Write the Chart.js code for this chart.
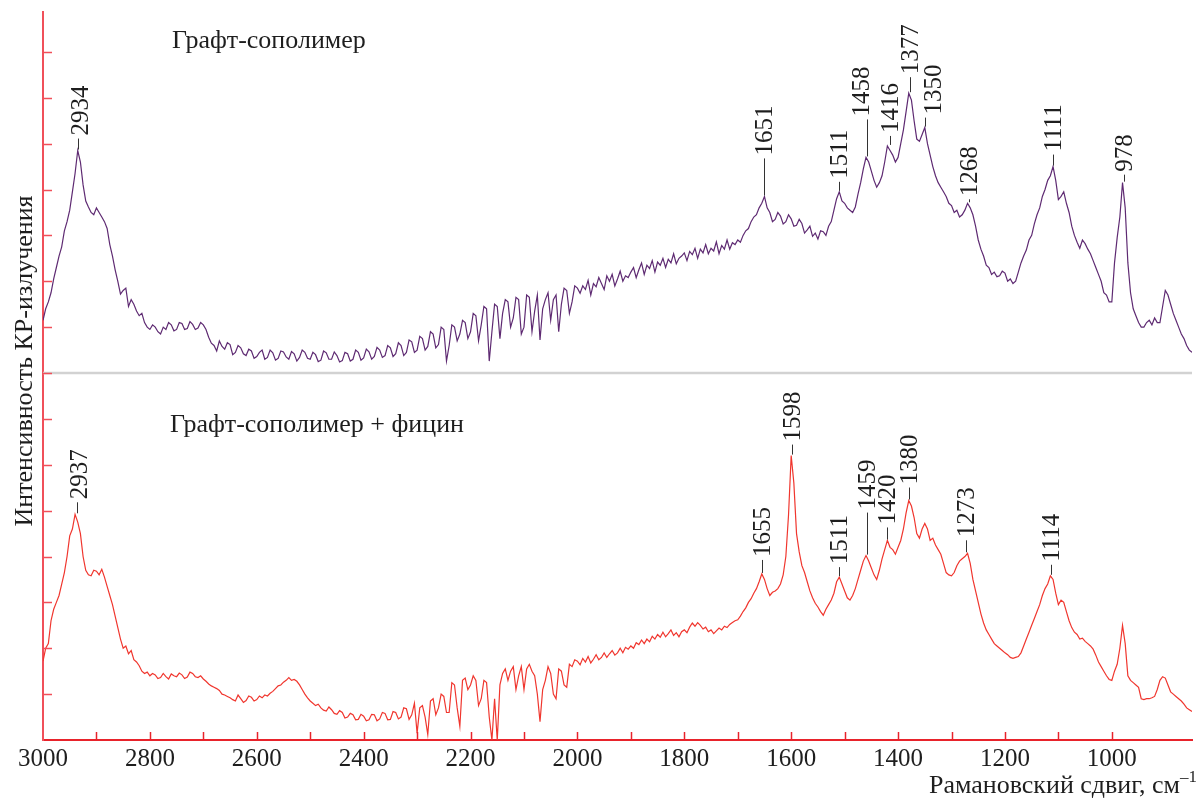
<!DOCTYPE html>
<html>
<head>
<meta charset="utf-8">
<script src="https://cdn.jsdelivr.net/npm/chart.js@4.4.1/dist/chart.umd.min.js"></script>
<style>
  html, body { margin: 0; background: #fff; }
  #wrap { width: 1198px; height: 803px; }
</style>
</head>
<body>
<div id="wrap"><canvas id="raman"></canvas></div>
<script>
// Raman shift, cm-1 (3000 -> 850, step 5)
const shift = [
  3000,2995,2990,2985,2980,2975,2970,2965,2960,2955,2950,2945,2940,2935,2930,2925,2920,2915,2910,2905,
  2900,2895,2890,2885,2880,2875,2870,2865,2860,2855,2850,2845,2840,2835,2830,2825,2820,2815,2810,2805,
  2800,2795,2790,2785,2780,2775,2770,2765,2760,2755,2750,2745,2740,2735,2730,2725,2720,2715,2710,2705,
  2700,2695,2690,2685,2680,2675,2670,2665,2660,2655,2650,2645,2640,2635,2630,2625,2620,2615,2610,2605,
  2600,2595,2590,2585,2580,2575,2570,2565,2560,2555,2550,2545,2540,2535,2530,2525,2520,2515,2510,2505,
  2500,2495,2490,2485,2480,2475,2470,2465,2460,2455,2450,2445,2440,2435,2430,2425,2420,2415,2410,2405,
  2400,2395,2390,2385,2380,2375,2370,2365,2360,2355,2350,2345,2340,2335,2330,2325,2320,2315,2310,2305,
  2300,2295,2290,2285,2280,2275,2270,2265,2260,2255,2250,2245,2240,2235,2230,2225,2220,2215,2210,2205,
  2200,2195,2190,2185,2180,2175,2170,2165,2160,2155,2150,2145,2140,2135,2130,2125,2120,2115,2110,2105,
  2100,2095,2090,2085,2080,2075,2070,2065,2060,2055,2050,2045,2040,2035,2030,2025,2020,2015,2010,2005,
  2000,1995,1990,1985,1980,1975,1970,1965,1960,1955,1950,1945,1940,1935,1930,1925,1920,1915,1910,1905,
  1900,1895,1890,1885,1880,1875,1870,1865,1860,1855,1850,1845,1840,1835,1830,1825,1820,1815,1810,1805,
  1800,1795,1790,1785,1780,1775,1770,1765,1760,1755,1750,1745,1740,1735,1730,1725,1720,1715,1710,1705,
  1700,1695,1690,1685,1680,1675,1670,1665,1660,1655,1650,1645,1640,1635,1630,1625,1620,1615,1610,1605,
  1600,1595,1590,1585,1580,1575,1570,1565,1560,1555,1550,1545,1540,1535,1530,1525,1520,1515,1510,1505,
  1500,1495,1490,1485,1480,1475,1470,1465,1460,1455,1450,1445,1440,1435,1430,1425,1420,1415,1410,1405,
  1400,1395,1390,1385,1380,1375,1370,1365,1360,1355,1350,1345,1340,1335,1330,1325,1320,1315,1310,1305,
  1300,1295,1290,1285,1280,1275,1270,1265,1260,1255,1250,1245,1240,1235,1230,1225,1220,1215,1210,1205,
  1200,1195,1190,1185,1180,1175,1170,1165,1160,1155,1150,1145,1140,1135,1130,1125,1120,1115,1110,1105,
  1100,1095,1090,1085,1080,1075,1070,1065,1060,1055,1050,1045,1040,1035,1030,1025,1020,1015,1010,1005,
  1000,995,990,985,980,975,970,965,960,955,950,945,940,935,930,925,920,915,910,905,
  900,895,890,885,880,875,870,865,860,855,850
];

// upper trace (graft copolymer), drawn above the grey baseline
const graft = [
  9.15,9.4,9.55,9.75,10.05,10.3,10.55,10.75,11.1,11.3,11.55,11.95,12.35,12.85,12.6,12.1,11.75,11.62,11.5,11.45,
  11.6,11.5,11.4,11.3,11.15,10.8,10.55,10.25,10.0,9.72,9.8,9.85,9.45,9.6,9.5,9.35,9.25,9.3,9.1,9.0,
  8.95,9.05,9.0,8.9,8.85,9.0,8.95,9.1,9.05,8.92,8.95,9.1,9.08,8.95,8.97,9.12,9.06,8.95,8.98,9.1,
  9.05,8.95,8.78,8.65,8.6,8.48,8.7,8.58,8.52,8.66,8.62,8.4,8.45,8.6,8.55,8.42,8.38,8.52,8.48,8.32,
  8.36,8.45,8.5,8.3,8.34,8.5,8.44,8.28,8.32,8.48,8.46,8.35,8.3,8.47,8.42,8.26,8.34,8.5,8.45,8.32,
  8.3,8.45,8.4,8.25,8.28,8.48,8.44,8.3,8.3,8.46,8.38,8.24,8.27,8.45,8.42,8.26,8.3,8.5,8.45,8.28,
  8.33,8.52,8.46,8.3,8.36,8.56,8.5,8.34,8.38,8.6,8.55,8.36,8.42,8.66,8.6,8.38,8.45,8.72,8.68,8.45,
  8.5,8.8,8.75,8.5,8.58,8.9,8.85,8.55,8.62,9.0,8.95,8.26,8.6,9.05,9.0,8.7,8.85,9.15,9.1,8.75,
  8.9,9.3,9.25,8.7,9.05,9.45,9.4,8.26,8.9,9.5,9.45,8.75,9.3,9.6,9.55,9.0,9.2,9.65,9.6,8.85,
  9.0,9.7,9.65,8.9,9.35,9.7,8.72,9.4,9.6,9.75,9.15,9.6,9.7,8.9,9.5,9.85,9.8,9.3,9.55,9.9,
  9.85,9.74,9.9,9.82,10.02,9.7,9.95,9.88,10.08,9.95,9.82,10.12,10.0,10.15,9.9,10.05,10.22,10.0,10.12,10.08,
  10.2,10.3,10.08,10.25,10.4,10.15,10.35,10.28,10.45,10.2,10.42,10.35,10.5,10.3,10.48,10.4,10.6,10.38,10.5,10.55,
  10.62,10.45,10.65,10.58,10.72,10.5,10.7,10.62,10.8,10.6,10.72,10.66,10.86,10.6,10.78,10.7,10.9,10.7,10.84,10.8,
  10.9,10.85,11.0,11.1,11.15,11.3,11.4,11.45,11.6,11.7,11.85,11.6,11.5,11.3,11.35,11.5,11.42,11.25,11.3,11.45,
  11.36,11.2,11.22,11.35,11.26,11.05,11.12,11.2,10.98,11.05,10.92,11.1,11.08,11.0,11.2,11.3,11.55,11.8,11.95,11.75,
  11.7,11.6,11.55,11.5,11.62,11.9,12.15,12.45,12.7,12.6,12.4,12.2,12.05,12.15,12.3,12.6,12.95,12.85,12.75,12.6,
  12.7,13.0,13.3,13.7,14.1,13.95,13.5,13.1,13.05,13.2,13.35,13.0,12.75,12.5,12.3,12.15,12.05,11.95,11.85,11.7,
  11.65,11.5,11.55,11.4,11.45,11.55,11.7,11.6,11.45,11.2,10.9,10.7,10.55,10.35,10.3,10.15,10.2,10.1,10.12,10.22,
  10.18,10.0,10.05,9.95,10.0,10.2,10.4,10.55,10.68,10.9,11.0,11.25,11.45,11.6,11.85,12.0,12.2,12.3,12.5,12.2,
  11.78,11.85,11.95,11.7,11.5,11.2,11.0,10.85,10.72,10.9,10.82,10.7,10.6,10.45,10.3,10.15,10.0,9.75,9.7,9.55,
  9.55,10.4,10.95,11.4,12.15,11.6,10.4,9.75,9.4,9.25,9.1,9.0,9.0,9.1,9.15,9.05,9.2,9.1,9.1,9.45,
  9.8,9.7,9.5,9.3,9.15,9.0,8.85,8.75,8.6,8.5,8.45
];

// lower trace (graft copolymer + ficin)
const graftFicin = [
  1.72,2.0,2.1,2.6,2.85,3.0,3.15,3.4,3.65,4.0,4.45,4.6,4.92,4.75,4.5,4.0,3.7,3.6,3.58,3.7,
  3.68,3.6,3.72,3.55,3.35,3.15,2.95,2.7,2.45,2.2,2.0,2.05,1.88,1.95,1.75,1.7,1.62,1.5,1.45,1.48,
  1.4,1.45,1.42,1.34,1.36,1.45,1.38,1.33,1.44,1.4,1.38,1.46,1.42,1.34,1.37,1.48,1.45,1.38,1.36,1.4,
  1.33,1.28,1.22,1.18,1.15,1.12,1.08,1.0,0.98,0.95,0.92,0.88,0.85,0.98,0.9,0.82,0.86,0.96,0.93,0.85,
  0.88,0.96,0.92,0.98,0.96,1.02,1.06,1.12,1.18,1.2,1.26,1.3,1.36,1.3,1.32,1.28,1.2,1.1,1.0,0.92,
  0.85,0.8,0.75,0.78,0.7,0.65,0.63,0.72,0.66,0.58,0.56,0.64,0.6,0.48,0.5,0.58,0.55,0.44,0.45,0.56,
  0.52,0.42,0.44,0.56,0.55,0.42,0.46,0.6,0.58,0.44,0.45,0.62,0.6,0.46,0.5,0.7,0.68,0.45,0.55,0.8,
  0.15,0.7,0.75,0.5,0.12,0.85,0.9,0.55,0.7,1.0,0.95,0.6,0.6,1.25,1.2,0.7,0.3,1.3,1.35,1.1,
  1.2,1.4,1.3,0.75,0.9,1.3,1.25,0.5,0.0,0.9,0.0,1.2,1.45,1.55,1.3,1.5,1.6,1.1,1.4,1.6,
  1.1,1.55,1.65,1.5,1.4,1.0,0.4,1.1,1.3,1.6,1.45,1.0,0.9,1.55,1.5,1.2,1.15,1.65,1.6,1.75,
  1.72,1.64,1.78,1.7,1.82,1.68,1.76,1.86,1.75,1.8,1.9,1.8,1.88,1.95,1.85,1.9,2.0,1.9,2.02,1.98,
  2.05,2.0,2.12,2.08,2.18,2.1,2.2,2.14,2.26,2.2,2.3,2.24,2.35,2.25,2.32,2.4,2.28,2.34,2.25,2.36,
  2.4,2.34,2.46,2.55,2.48,2.56,2.5,2.42,2.46,2.36,2.4,2.32,2.38,2.44,2.4,2.48,2.45,2.52,2.56,2.6,
  2.62,2.7,2.8,2.88,3.0,3.08,3.2,3.3,3.45,3.62,3.5,3.3,3.15,3.22,3.25,3.3,3.4,3.6,4.0,4.9,
  6.2,5.6,4.5,4.1,3.8,3.65,3.45,3.25,3.1,2.98,2.9,2.8,2.72,2.85,2.95,3.05,3.2,3.45,3.55,3.4,
  3.25,3.1,3.05,3.15,3.3,3.5,3.7,3.9,4.02,3.9,3.75,3.6,3.5,3.7,3.95,4.15,4.35,4.2,4.15,4.05,
  4.2,4.35,4.6,4.95,5.22,5.1,4.85,4.5,4.4,4.6,4.72,4.6,4.35,4.4,4.25,4.15,4.05,3.85,3.65,3.6,
  3.58,3.65,3.8,3.9,3.95,4.0,4.07,3.85,3.5,3.25,3.0,2.75,2.55,2.4,2.3,2.2,2.1,2.05,2.0,1.95,
  1.9,1.86,1.8,1.78,1.8,1.82,1.9,2.05,2.2,2.35,2.5,2.65,2.8,2.95,3.15,3.3,3.4,3.58,3.5,3.2,
  2.95,3.05,3.0,2.8,2.6,2.45,2.35,2.3,2.2,2.22,2.15,2.1,2.05,1.98,1.85,1.7,1.6,1.5,1.4,1.32,
  1.3,1.5,1.65,2.0,2.5,2.1,1.4,1.3,1.25,1.2,1.15,0.9,0.88,0.9,0.9,0.92,0.95,1.1,1.3,1.38,
  1.35,1.2,1.05,1.0,0.95,0.9,0.85,0.78,0.7,0.66,0.62
];

const baseline = 8;   // grey separator between the two traces

const peaksGraft = [2934, 1651, 1511, 1458, 1416, 1377, 1350, 1268, 1111, 978];
const peaksFicin = [2937, 1655, 1598, 1511, 1459, 1420, 1380, 1273, 1114];

// label placement (px above peak, px sideways)
const leadGraft = [12, 38, 10, 38, 10, 16, 10, 4, 12, 8];
const dxGraft   = [2, 0, 0, -6, 0, 0, 8, 0, 0, 0];
const leadFicin = [12, 14, 11, 10, 43, 13, 13, 13, 11];
const dxFicin   = [2, 0, 0, 0, 0, 0, 0, 0, 0];

const SERIF = '"Liberation Serif", "DejaVu Serif", serif';
const INK = '#1e1e1e';

function drawPeaks(ctx, x, y, peaks, series, lead, dx) {
  peaks.forEach((p, i) => {
    let top = -Infinity;
    shift.forEach((s, j) => { if (Math.abs(s - p) <= 5) top = Math.max(top, series[j]); });
    const px = Math.round(x.getPixelForValue(p)) + 0.5;
    const py = y.getPixelForValue(top);
    ctx.beginPath();
    ctx.moveTo(px, py - 1);
    ctx.lineTo(px, py - lead[i]);
    ctx.stroke();
    ctx.save();
    ctx.translate(px + 1 + dx[i], py - lead[i] - 3);
    ctx.rotate(-Math.PI / 2);
    ctx.textAlign = 'left';
    ctx.textBaseline = 'middle';
    ctx.fillText(String(p), 0, 0);
    ctx.restore();
  });
}

const decor = {
  id: 'decor',
  afterDraw(chart) {
    const { ctx, chartArea: a, scales: { x, y } } = chart;
    ctx.save();

    // inward tick marks
    ctx.lineWidth = 1.5;
    ctx.strokeStyle = '#f0505a';
    y.ticks.forEach(t => {
      if (t.value <= 0 || t.value % 1) return;
      const py = Math.round(y.getPixelForValue(t.value)) + 0.5;
      ctx.beginPath(); ctx.moveTo(a.left, py); ctx.lineTo(a.left + 9, py); ctx.stroke();
    });
    ctx.strokeStyle = '#e8232b';
    x.ticks.forEach(t => {
      if (t.value % 100 || t.value >= 3000) return;
      const px = Math.round(x.getPixelForValue(t.value)) + 0.5;
      ctx.beginPath(); ctx.moveTo(px, a.bottom); ctx.lineTo(px, a.bottom - 8); ctx.stroke();
    });

    // peak labels
    ctx.strokeStyle = '#333';
    ctx.lineWidth = 1;
    ctx.fillStyle = INK;
    ctx.font = '25px ' + SERIF;
    drawPeaks(ctx, x, y, peaksGraft, graft, leadGraft, dxGraft);
    drawPeaks(ctx, x, y, peaksFicin, graftFicin, leadFicin, dxFicin);

    // panel captions
    ctx.font = '26px ' + SERIF;
    ctx.textAlign = 'left';
    ctx.textBaseline = 'alphabetic';
    ctx.fillText('Графт-сополимер', 172, 48);
    ctx.fillText('Графт-сополимер + фицин', 170, 432);

    // axis titles
    ctx.textAlign = 'right';
    const tail = '–1';
    ctx.font = '17px ' + SERIF;
    const tw = ctx.measureText(tail).width;
    ctx.fillText(tail, 1197, 782);
    ctx.font = '26px ' + SERIF;
    ctx.fillText('Рамановский сдвиг, см', 1197 - tw, 793);

    ctx.save();
    ctx.translate(32, 361);
    ctx.rotate(-Math.PI / 2);
    ctx.textAlign = 'center';
    ctx.fillText('Интенсивность КР-излучения', 0, 0);
    ctx.restore();

    ctx.restore();
  }
};

new Chart(document.getElementById('raman'), {
  type: 'line',
  data: {
    datasets: [
      { label: 'Графт-сополимер', data: shift.map((s, i) => ({ x: s, y: graft[i] })),
        borderColor: '#5e2a72', borderWidth: 1.2, pointRadius: 0, tension: 0, order: 1 },
      { label: 'Графт-сополимер + фицин', data: shift.map((s, i) => ({ x: s, y: graftFicin[i] })),
        borderColor: '#f0362e', borderWidth: 1.2, pointRadius: 0, tension: 0, order: 2 },
      { label: 'baseline', data: shift.map(s => ({ x: s, y: baseline })),
        borderColor: '#d2d2d2', borderWidth: 2.5, pointRadius: 0, order: 10 },
    ]
  },
  options: {
    responsive: true, maintainAspectRatio: false, animation: false,
    layout: { padding: { left: 43, top: 12, right: 6, bottom: 25 } },
    plugins: { legend: { display: false }, tooltip: { enabled: false } },
    scales: {
      x: {
        type: 'linear', reverse: true, min: 850, max: 3000,
        ticks: { stepSize: 100, autoSkip: false, maxRotation: 0, padding: 4,
                 color: INK, font: { family: SERIF, size: 25 },
                 callback: v => (v % 200 === 0 ? String(v) : '') },
        grid: { drawOnChartArea: false, drawTicks: false },
        border: { color: '#e8232b', width: 2 },
      },
      y: {
        min: 0, max: 15.87,
        ticks: { display: false, stepSize: 1 },
        grid: { drawOnChartArea: false, drawTicks: false },
        border: { color: '#f0505a', width: 2 },
      },
    },
  },
  plugins: [decor],
});
</script>
</body>
</html>
